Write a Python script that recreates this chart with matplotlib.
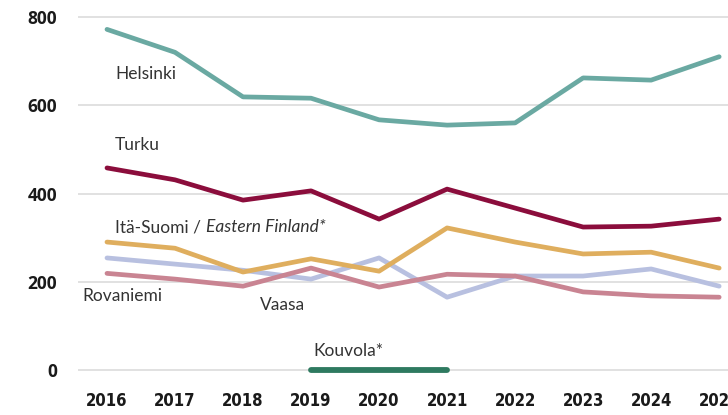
import matplotlib
matplotlib.use("Agg")
import matplotlib.pyplot as plt
import numpy as np

years = [2016, 2017, 2018, 2019, 2020, 2021, 2022, 2023, 2024, 2025]
helsinki = [772, 720, 619, 616, 567, 555, 560, 662, 657, 710]
turku = [458, 431, 385, 406, 342, 410, 367, 324, 326, 342]
ita_suomi = [290, 276, 222, 252, 224, 322, 290, 263, 267, 231]
vaasa = [254, 240, 226, 206, 254, 165, 213, 213, 229, 190]
rovaniemi = [219, 206, 190, 231, 188, 217, 213, 177, 168, 165]
kouvola = [np.nan, np.nan, np.nan, 0, 0, 0, np.nan, np.nan, np.nan, np.nan]
yticks = [0, 200, 400, 600, 800]

W, H = 728, 415
fig = plt.figure(figsize=(W / 100, H / 100), dpi=100)
ax_left = 78 / W
ax_bottom = (H - 387.65) / H
ax_top = (H - 8.2) / H
ax = fig.add_axes([ax_left, ax_bottom, 1 - ax_left, ax_top - ax_bottom])
ax.set_xlim(2015.574, 2025.13)
ax.set_ylim(-40, 820)

for s in ax.spines.values():
    s.set_visible(False)
ax.set_yticks(yticks)
ax.grid(axis="y", color="#dcdcdc", lw=1.2, zorder=0)
ax.set_axisbelow(True)
ax.tick_params(axis="both", length=0)
ax.tick_params(axis="y", pad=15)
ax.tick_params(axis="x", pad=3)
ax.set_xticks(years)
ax.set_xticklabels([str(y) for y in years], fontsize=12, fontweight="bold",
                   family="DejaVu Sans", fontstretch="condensed", color="#1a1a1a")
ax.set_yticklabels([str(v) for v in yticks], fontsize=12.5, fontweight="bold",
                   family=["Open Sans", "DejaVu Sans"], color="#1a1a1a")

lw = 3.4
ax.plot(years, rovaniemi, color="#c98492", lw=lw, solid_capstyle="round", solid_joinstyle="round", zorder=3)
ax.plot(years, vaasa, color="#b8c0e0", lw=lw, solid_capstyle="round", solid_joinstyle="round", zorder=2)
ax.plot(years, ita_suomi, color="#dfae5e", lw=lw, solid_capstyle="round", solid_joinstyle="round", zorder=4)
ax.plot(years, turku, color="#8b0d3c", lw=lw, solid_capstyle="round", solid_joinstyle="round", zorder=5)
ax.plot(years, helsinki, color="#6aa9a2", lw=lw, solid_capstyle="round", solid_joinstyle="round", zorder=5)
ax.plot(years, kouvola, color="#2e7a60", lw=4.2, solid_capstyle="round", zorder=5)

lab = dict(fontsize=12.5, family=["Lato", "DejaVu Sans"], color="#333333", va="center", ha="left")
ax.text(2016.12, 670, "Helsinki", **lab)
ax.text(2016.12, 510, "Turku", **lab)
t = ax.text(2016.12, 323, "Itä-Suomi / ", **lab)
fig.canvas.draw()
bb = t.get_window_extent()
x_end = ax.transData.inverted().transform((bb.x1, 0))[0]
ax.text(x_end, 323, "Eastern Finland*", style="italic", **lab)
ax.text(2015.64, 167, "Rovaniemi", **lab)
ax.text(2018.25, 147, "Vaasa", **lab)
ax.text(2019.04, 43, "Kouvola*", **lab)

fig.savefig("out.png", dpi=100)
